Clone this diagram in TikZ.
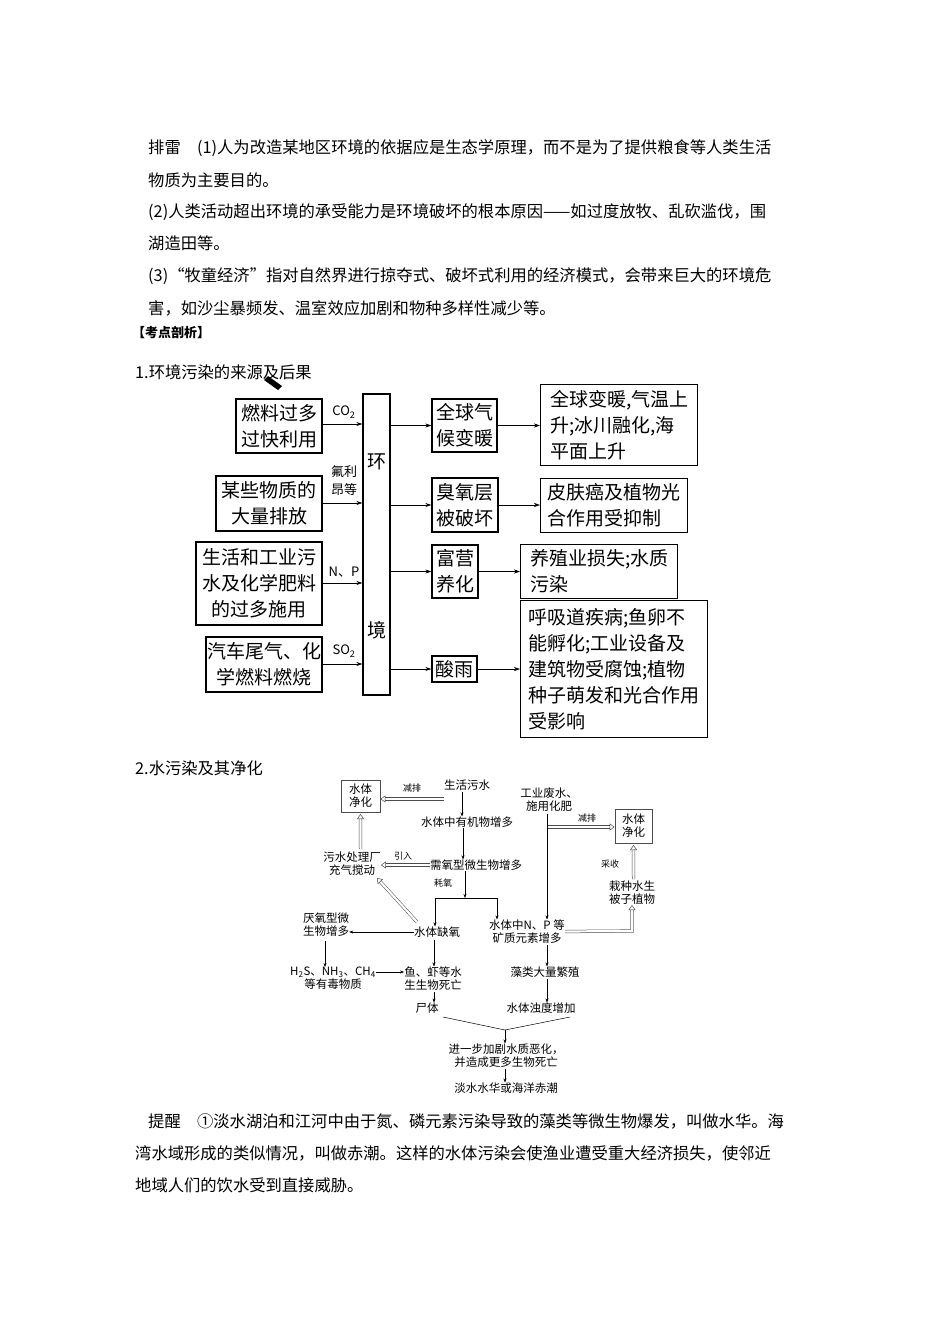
\documentclass[tikz,border=0pt]{standalone}
\usepackage{fontspec}
\setmainfont{Noto Sans CJK SC}
\usetikzlibrary{arrows.meta}
\begin{document}
\begin{tikzpicture}[x=1pt,y=-1pt,
 body/.style={anchor=west,inner sep=0,font=\fontsize{16.3}{18}\selectfont},
 bx/.style={draw,line width=1.3pt,inner sep=0,font=\fontsize{19}{26}\selectfont,align=center},
 bxl/.style={draw,line width=1.3pt,inner sep=3pt,font=\fontsize{19}{26}\selectfont,align=left,anchor=north west},
 ar/.style={-{Stealth[length=6pt,width=4pt]},line width=0.6pt},
 lb/.style={inner sep=0,font=\fontsize{13}{15}\selectfont,align=center},
 t2/.style={inner sep=0,font=\fontsize{11.5}{13}\selectfont,align=center},
 a2/.style={-{Stealth[length=4pt,width=3pt]},line width=0.5pt},
 hol/.style={draw=black!70,double=white,double distance=2.2pt,line width=0.5pt,-{Triangle[open,length=5pt,width=7pt]}},
 ]
\useasboundingbox (0,0) rectangle (950,1344);
\fill[white] (0,0) rectangle (950,1344);
% body text
\node[body] (l1) at (148,148) {排雷\quad (1)人为改造某地区环境的依据应是生态学原理，而不是为了提供粮食等人类生活};
\node[body] (l2) at (148,180) {物质为主要目的。};
\node[body] (l3) at (148,212) {(2)人类活动超出环境的承受能力是环境破坏的根本原因——如过度放牧、乱砍滥伐，围};
\node[body] (l4) at (148,243) {湖造田等。};
\node[body] (l5) at (148,276) {(3)“牧童经济”指对自然界进行掠夺式、破坏式利用的经济模式，会带来巨大的环境危};
\node[body] (l6) at (148,308) {害，如沙尘暴频发、温室效应加剧和物种多样性减少等。};
\node[body,font=\fontsize{13}{15}\selectfont\bfseries] (h0) at (132,333) {【考点剖析】};
\node[body] (h1) at (135,372) {1.环境污染的来源及后果};
\node[body] (h2) at (135,768) {2.水污染及其净化};
\node[body] (l7) at (148,1121) {提醒\quad ①淡水湖泊和江河中由于氮、磷元素污染导致的藻类等微生物爆发，叫做水华。海};
\node[body] (l8) at (135,1153) {湾水域形成的类似情况，叫做赤潮。这样的水体污染会使渔业遭受重大经济损失，使邻近};
\node[body] (l9) at (135,1185) {地域人们的饮水受到直接威胁。};
\fill (268,376) -- (282,386) -- (278,390) -- (264,380) -- cycle;
% diagram 1
\node[bx,minimum width=86,minimum height=54] (A) at (279,426) {燃料过多\\过快利用};
\node[bx,minimum width=106,minimum height=55] (B) at (269,503.5) {某些物质的\\大量排放};
\node[bx,minimum width=126,minimum height=83] (C) at (259,583.5) {生活和工业污\\水及化学肥料\\的过多施用};
\node[bx,minimum width=116,minimum height=55] (D) at (264,664.5) {汽车尾气、化\\学燃料燃烧};
\node[draw,line width=1.3pt,minimum width=27,minimum height=301,inner sep=0] (E) at (376.5,544.5) {};
\node[lb,font=\fontsize{19}{20}\selectfont] (e1) at (376.5,462) {环};
\node[lb,font=\fontsize{19}{20}\selectfont] (e2) at (376.5,630) {境};
\draw[ar] (A.east|-0,424) -- (E.west|-0,424);
\draw[ar] (B.east|-0,503) -- (E.west|-0,503);
\draw[ar] (C.east|-0,583) -- (E.west|-0,583);
\draw[ar] (D.east|-0,664) -- (E.west|-0,664);
\node[lb] (c1) at (344,412) {CO\textsubscript{2}};
\node[lb,font=\fontsize{13}{18}\selectfont] (c2) at (344,481) {氟利\\昂等};
\node[lb] (c3) at (344,572) {N、P};
\node[lb] (c4) at (344,651) {SO\textsubscript{2}};
\node[bx,minimum width=65,minimum height=53] (M1) at (464.5,425.5) {全球气\\候变暖};
\node[bx,minimum width=66,minimum height=54] (M2) at (465,505) {臭氧层\\被破坏};
\node[bx,minimum width=46,minimum height=53] (M3) at (455,571.5) {富营\\养化};
\node[bx,minimum width=45,minimum height=26] (M4) at (454.5,669) {酸雨};
\draw[ar] (E.east|-M1) -- (M1);
\draw[ar] (E.east|-M2) -- (M2);
\draw[ar] (E.east|-M3) -- (M3);
\draw[ar] (E.east|-M4) -- (M4);
\node[bxl,minimum width=157,minimum height=81] (R1) at (540,384) {全球变暖,气温上\\升;冰川融化,海\\平面上升};
\node[bxl,minimum width=147,minimum height=54] (R2) at (540,478) {皮肤癌及植物光\\合作用受抑制};
\node[bxl,minimum width=157,minimum height=54] (R3) at (520,544) {养殖业损失;水质\\污染};
\node[bxl,minimum width=187,minimum height=137] (R4) at (520,600) {呼吸道疾病;鱼卵不\\能孵化;工业设备及\\建筑物受腐蚀;植物\\种子萌发和光合作用\\受影响};
\draw[ar] (M1.east) -- (R1.west|-M1);
\draw[ar] (M2.east) -- (R2.west|-M2);
\draw[ar] (M3.east) -- (R3.west|-M3);
\draw[ar] (M4.east) -- (R4.west|-M4);
% diagram 2
\node[t2,draw=black!70,line width=0.8pt,minimum width=39,minimum height=32] (J1) at (360.5,796) {水体\\净化};
\node[t2] (s1) at (467,785) {生活污水};
\node[t2] (s2) at (467,822) {水体中有机物增多};
\node[t2] (s3) at (476,865) {需氧型微生物增多};
\node[t2] (s4) at (352,863.5) {污水处理厂\\充气搅动};
\node[t2] (s5) at (437,932) {水体缺氧};
\node[t2] (s6) at (527,931.5) {水体中N、P 等\\矿质元素增多};
\node[t2] (s7) at (326,925) {厌氧型微\\生物增多};
\node[t2] (s8) at (333,978.5) {H\textsubscript{2}S、NH\textsubscript{3}、CH\textsubscript{4}\\等有毒物质};
\node[t2] (s9) at (433,978.5) {鱼、虾等水\\生生物死亡};
\node[t2] (s10) at (427,1008) {尸体};
\node[t2] (s11) at (545,972) {藻类大量繁殖};
\node[t2] (s12) at (541,1008) {水体浊度增加};
\node[t2] (s13) at (549,800) {工业废水、\\施用化肥};
\node[t2,draw=black!70,line width=0.8pt,minimum width=37,minimum height=34] (J2) at (633.5,826) {水体\\净化};
\node[t2] (s14) at (632,893) {栽种水生\\被子植物};
\node[t2] (s15) at (506,1055.5) {进一步加剧水质恶化，\\并造成更多生物死亡};
\node[t2] (s16) at (506,1088) {淡水水华或海洋赤潮};
\node[t2,font=\fontsize{9}{10}\selectfont] (k1) at (412,788) {减排};
\node[t2,font=\fontsize{9}{10}\selectfont] (k2) at (403,856) {引入};
\node[t2,font=\fontsize{9}{10}\selectfont] (k3) at (443,883) {耗氧};
\node[t2,font=\fontsize{9}{10}\selectfont] (k4) at (587,818) {减排};
\node[t2,font=\fontsize{9}{10}\selectfont] (k5) at (610,864) {采收};
\draw[hol] (s1.west|-0,799) -- (J1.east|-0,799);
\draw[hol] (s3.west) -- (s4.east|-s3);
\draw[hol] (360.6,849) -- (360.5,814);
\draw[hol] (417,922) -- (377,878);
\draw[hol] (548,827) -- (J2.west|-0,827);
\draw[hol] (633.6,879) -- (633.5,845);
\draw[hol] (s6.east) -- (632,931) -- (s14.south);
\draw[a2] (462,792) -- (s2.north-|462,0);
\draw[a2] (463,828) -- (s3.north-|463,0);
\draw[a2] (465,871) -- (465,898) coordinate (sp);
\draw[line width=0.5pt] (435,898) -- (497,898);
\draw[a2] (435,898) -- (s5.north-|435,0);
\draw[a2] (497,898) -- (s6.north-|497,0);
\draw[a2] (547,814) -- (s6.north-|547,0);
\draw[a2] (s5.west) -- (s7.east|-s5);
\draw[a2] (325,941) -- (s8.north-|325,0);
\draw[a2] (s8.east|-0,972) -- (s9.west|-0,972);
\draw[a2] (434,940) -- (s9.north-|434,0);
\draw[a2] (434,992) -- (s10.north-|434,0);
\draw[a2] (547,945) -- (s11.north-|547,0);
\draw[a2] (547,979) -- (s12.north-|547,0);
\draw[line width=0.5pt] (443,1017) -- (505,1030) -- (570,1017);
\draw[a2] (505,1030) -- (s15.north-|505,0);
\draw[a2] (505,1069) -- (s16.north-|505,0);
\end{tikzpicture}
\end{document}
